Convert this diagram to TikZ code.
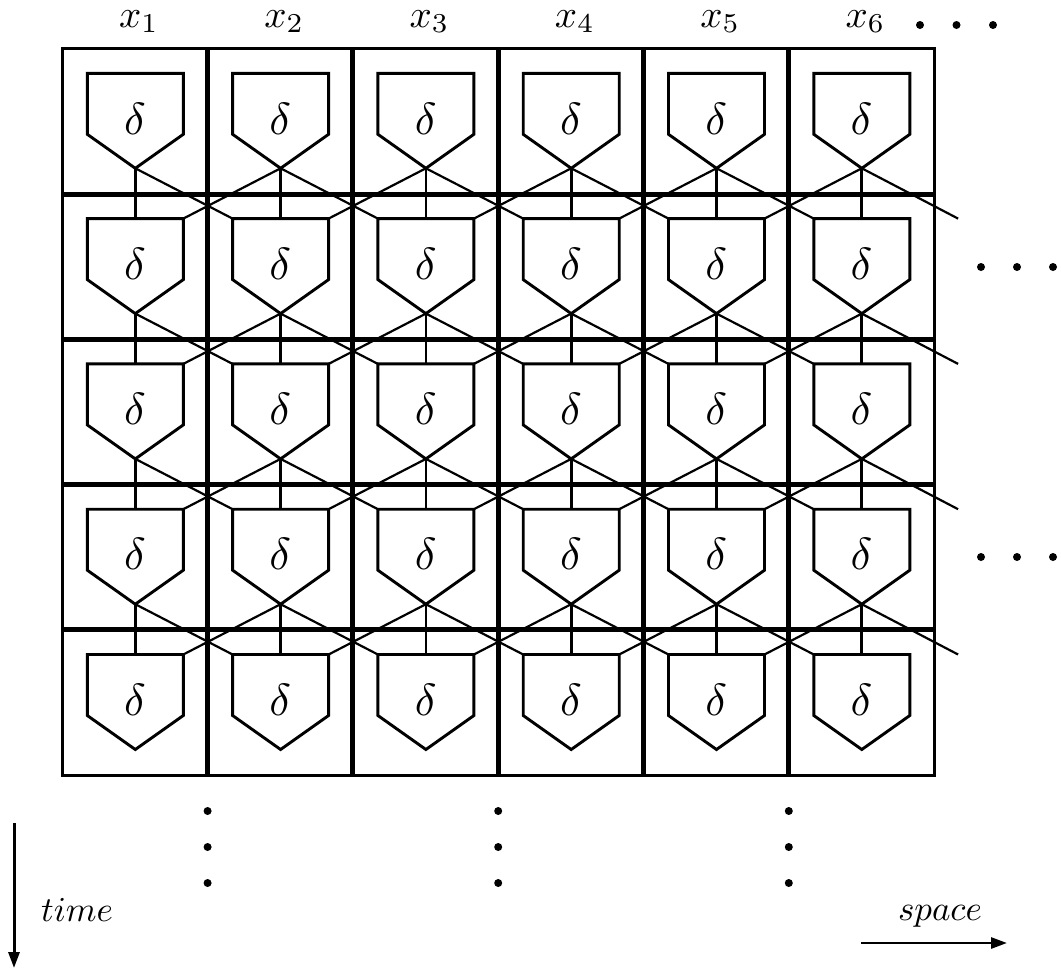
\documentclass[tikz,border=0pt]{standalone}
\usetikzlibrary{arrows.meta}
\begin{document}
\begin{tikzpicture}[x=0.5pt,y=-0.5pt,
  pent/.style={line width=1.45pt, line join=miter, fill=white},
  wire/.style={line width=1.1pt},
  vlink/.style={line width=1.4pt},
  outer/.style={line width=1.5pt},
  inner/.style={line width=2.5pt},
  dlt/.style={inner sep=0pt, anchor=base, scale=2.25},
  xlab/.style={inner sep=0pt, anchor=base, scale=1.95},
  axlab/.style={inner sep=0pt, anchor=base, scale=1.75},
  axis/.style={line width=1.5pt, -{Triangle[length=8pt,width=5.5pt]}},
  dot/.style={fill=black}
]
\useasboundingbox (0,0) rectangle (1061,970);
\def\cs{145.3}
% pentagon coordinates
\foreach \r in {1,...,5}{
  \foreach \c in {1,...,6}{
    \pgfmathsetmacro\L{62.3+(\c-1)*\cs}
    \pgfmathsetmacro\T{48.7+(\r-1)*\cs}
    \coordinate (tl-\r-\c) at (\L+25,\T+24.6);
    \coordinate (tr-\r-\c) at (\L+121,\T+24.6);
    \coordinate (tm-\r-\c) at (\L+73,\T+24.6);
    \coordinate (rs-\r-\c) at (\L+121,\T+85.6);
    \coordinate (ls-\r-\c) at (\L+25,\T+85.6);
    \coordinate (tip-\r-\c) at (\L+73,\T+119.6);
  }
  \pgfmathsetmacro\T{48.7+(\r-1)*\cs}
  \coordinate (tl-\r-7) at (934.1+24,\T+24.6);
}
% wires
\foreach \r [evaluate=\r as \n using int(\r+1)] in {1,...,4}{
  \foreach \c [evaluate=\c as \d using int(\c+1)] in {1,...,6}{
    \draw[vlink] (tip-\r-\c) -- (tm-\n-\c);
    \draw[wire] (tip-\r-\c) -- (tl-\n-\d);
    \ifnum\c<6 \draw[wire] (tip-\r-\d) -- (tr-\n-\c); \fi
  }
}
% pentagons and deltas
\foreach \r in {1,...,5}{
  \foreach \c in {1,...,6}{
    \draw[pent] (tl-\r-\c) -- (tr-\r-\c) -- (rs-\r-\c) -- (tip-\r-\c) -- (ls-\r-\c) -- cycle;
    \pgfmathsetmacro\L{62.3+(\c-1)*\cs}
    \pgfmathsetmacro\T{48.7+(\r-1)*\cs}
    \node[dlt] (d-\r-\c) at (\L+72.7,\T+85.3) {$\delta$};
  }
}
% grid
\foreach \i in {1,...,5}{
  \draw[inner] ({62.3+\i*\cs},48.7) -- ({62.3+\i*\cs},775);
}
\foreach \j in {1,...,4}{
  \draw[inner] (62.3,{48.7+\j*\cs}) -- (934.1,{48.7+\j*\cs});
}
\draw[outer] (62.3,48.7) rectangle (934.1,775);
% column labels
\foreach \c in {1,...,6}{
  \node[xlab] (x\c) at ({62.3+(\c-0.5)*\cs+4},27) {$x_{\c}$};
}
% dots
\foreach \x in {920,956.5,993}{ \fill[dot] (\x,25) circle (2pt); }
\foreach \y in {267,557}{
  \foreach \x in {981,1017,1053}{ \fill[dot] (\x,\y) circle (2pt); }
}
\foreach \x in {207.6,498.2,788.8}{
  \foreach \y in {811,847,883}{ \fill[dot] (\x,\y) circle (2pt); }
}
% axes
\coordinate (ta) at (14,823);
\coordinate (tb) at (14,968);
\draw[axis] (ta) -- (tb);
\node[axlab] (time) at (77,921) {$time$};
\coordinate (sa) at (861,943);
\coordinate (sb) at (1007,943);
\draw[axis, line width=1.35pt] (sa) -- (sb);
\node[axlab] (space) at (940,920) {$space$};
\end{tikzpicture}
\end{document}
